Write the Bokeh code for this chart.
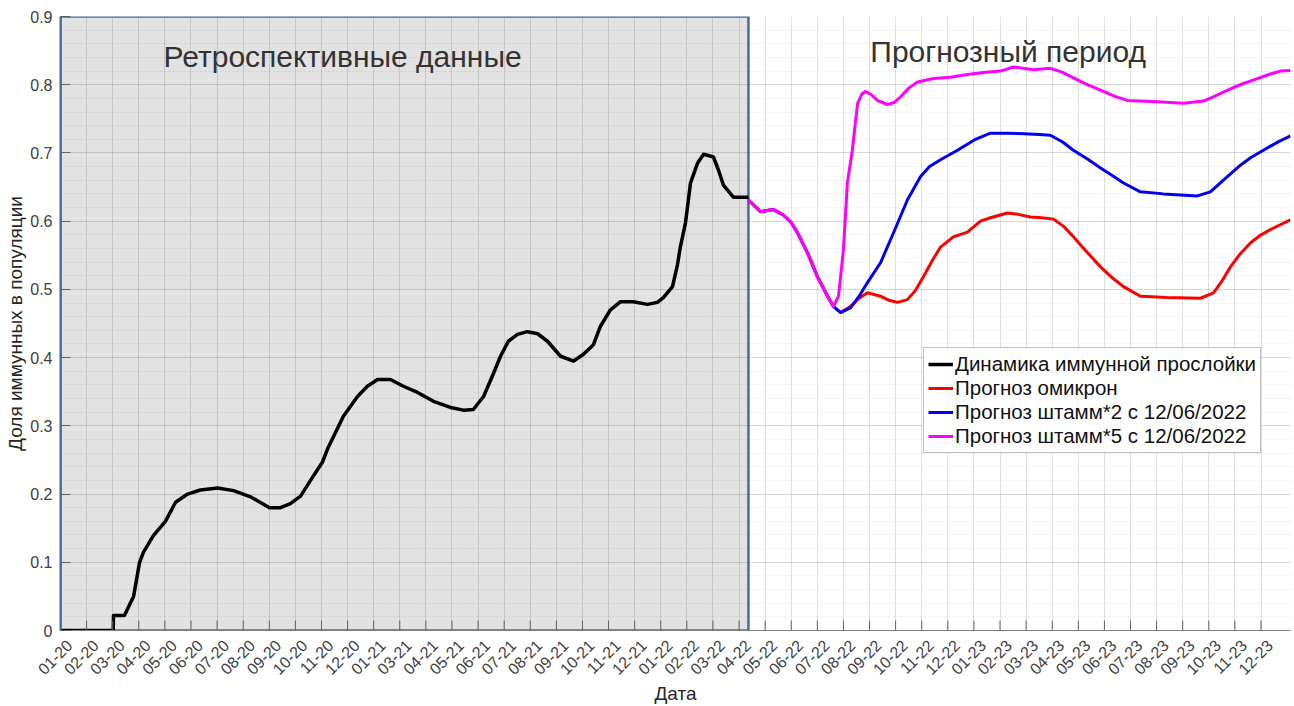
import numpy as np
from bokeh.plotting import figure
from bokeh.models import (FixedTicker, NumeralTickFormatter, Label, Legend,
                          LegendItem, Range1d, CustomJSTickFormatter)
from bokeh.embed import file_html
from bokeh.resources import INLINE

# ---------------- data ----------------
TICK_LABELS = [
    "01-20", "02-20", "03-20", "04-20", "05-20", "06-20", "07-20", "08-20",
    "09-20", "10-20", "11-20", "12-20", "01-21", "03-21", "04-21", "05-21",
    "06-21", "07-21", "08-21", "09-21", "10-21", "11-21", "12-21", "01-22",
    "02-22", "03-22", "04-22", "05-22", "06-22", "07-22", "08-22", "09-22",
    "10-22", "11-22", "12-22", "01-23", "02-23", "03-23", "04-23", "05-23",
    "06-23", "07-23", "08-23", "09-23", "10-23", "11-23", "12-23",
]

# x is measured in tick positions (0 = "01-20")
hist_t = [0, 2.02, 2.03, 2.45, 2.55, 2.8, 3.03, 3.18, 3.56, 4.02, 4.41, 4.87,
          5.36, 6.02, 6.63, 7.28, 8.01, 8.43, 8.81, 9.2, 9.58, 10.04, 10.23,
          10.84, 11.38, 11.76, 12.15, 12.64, 13.14, 13.68, 14.29, 14.94, 15.44,
          15.82, 16.21, 16.55, 16.86, 17.16, 17.51, 17.89, 18.28, 18.66, 19.16,
          19.66, 20.04, 20.42, 20.69, 21.07, 21.46, 21.95, 22.49, 22.87, 23.1,
          23.45, 23.64, 23.75, 23.95, 24.14, 24.41, 24.64, 25.02, 25.21, 25.4,
          25.79, 26.36]
hist_v = [0, 0, 0.022, 0.022, 0.03, 0.05, 0.1, 0.115, 0.139, 0.16, 0.188, 0.2,
          0.206, 0.209, 0.205, 0.196, 0.18, 0.18, 0.186, 0.197, 0.22, 0.247,
          0.266, 0.314, 0.343, 0.358, 0.368, 0.368, 0.358, 0.349, 0.336, 0.327,
          0.323, 0.324, 0.343, 0.373, 0.402, 0.424, 0.434, 0.438, 0.435, 0.424,
          0.402, 0.395, 0.405, 0.419, 0.446, 0.47, 0.482, 0.482, 0.478, 0.481,
          0.488, 0.504, 0.536, 0.562, 0.598, 0.656, 0.685, 0.698, 0.694, 0.675,
          0.653, 0.635, 0.635]

common_t = [26.36, 26.82, 27.32, 27.7, 28.0, 28.24, 28.62, 29.0, 29.39, 29.62]
common_v = [0.631, 0.614, 0.617, 0.609, 0.598, 0.583, 0.554, 0.519, 0.49, 0.475]

omicron_t = [29.89, 30.27, 30.6, 30.92, 31.42, 31.75, 32.07, 32.45, 32.75,
             33.07, 33.4, 33.72, 34.21, 34.75, 35.25, 35.63, 36.28, 36.7,
             37.16, 37.6, 38.05, 38.45, 38.81, 39.3, 39.85, 40.3, 40.73, 41.38,
             42.41, 43.68, 44.18, 44.5, 44.83, 45.2, 45.59, 46.0, 46.48, 47.13]
omicron_v = [0.466, 0.475, 0.487, 0.495, 0.49, 0.484, 0.481, 0.485, 0.498,
             0.519, 0.542, 0.562, 0.577, 0.584, 0.6, 0.605, 0.612, 0.61,
             0.606, 0.605, 0.603, 0.592, 0.577, 0.556, 0.533, 0.517, 0.504,
             0.49, 0.488, 0.487, 0.495, 0.512, 0.533, 0.552, 0.568, 0.58,
             0.59, 0.602]

strain2_t = [29.89, 30.27, 30.6, 30.92, 31.42, 31.92, 32.45, 32.95, 33.3,
             33.72, 34.37, 35.06, 35.63, 36.3, 36.9, 37.5, 37.93, 38.4, 38.81,
             39.35, 39.85, 40.3, 40.73, 41.38, 42.26, 43.56, 44.06, 44.56,
             45.21, 45.6, 46.09, 46.6, 47.13]
strain2_v = [0.466, 0.473, 0.49, 0.51, 0.539, 0.583, 0.631, 0.665, 0.68, 0.69,
             0.704, 0.72, 0.729, 0.729, 0.728, 0.727, 0.726, 0.716, 0.704,
             0.691, 0.678, 0.667, 0.656, 0.643, 0.64, 0.637, 0.643, 0.66,
             0.682, 0.693, 0.704, 0.715, 0.725]

strain5_t = [29.81, 30.0, 30.15, 30.34, 30.54, 30.7, 30.84, 31.05, 31.3, 31.69,
             31.95, 32.18, 32.5, 32.84, 33.45, 34.1, 34.75, 35.36, 36.02,
             36.51, 37.28, 37.93, 38.4, 38.81, 39.3, 39.85, 40.4, 40.88, 42.03,
             43.03, 43.79, 44.15, 44.56, 45.2, 45.86, 46.3, 46.74, 47.13]
strain5_v = [0.49, 0.558, 0.656, 0.704, 0.772, 0.786, 0.79, 0.786, 0.777,
             0.771, 0.774, 0.782, 0.795, 0.804, 0.809, 0.811, 0.815, 0.818,
             0.82, 0.826, 0.822, 0.824, 0.818, 0.81, 0.801, 0.792, 0.783,
             0.777, 0.775, 0.773, 0.776, 0.782, 0.789, 0.8, 0.809, 0.815,
             0.82, 0.821]

Y_TICKS = [0, 0.1, 0.2, 0.3, 0.4, 0.5, 0.6, 0.7, 0.8, 0.9]

# ---------------- figure ----------------
FONT = "Liberation Sans"
BLUE_FRAME = "#3d6e9e"
X_END = strain5_t[-1]
Y_END = Y_TICKS[-1]
FRAME_H = 616                      # plot frame height in px
LABEL_SHIFT = 0.34                 # labels sit a little right of their tick
X_TICKS = list(range(len(TICK_LABELS)))

p = figure(width=1292, height=706, output_backend="svg", toolbar_location=None,
           x_range=Range1d(0, X_END), y_range=Range1d(0, Y_END),
           min_border_left=60, min_border_right=2, min_border_top=16,
           min_border_bottom=74, background_fill_color="white",
           border_fill_color="white", outline_line_color=None)

# shaded retrospective region
p.quad(left=[hist_t[0]], right=[hist_t[-1]], bottom=[Y_TICKS[0]], top=[Y_END],
       fill_color="#e2e2e2", line_color=None, level="image")
p.quad(left=[hist_t[0]], right=[hist_t[-1]], bottom=[Y_TICKS[0]], top=[Y_END],
       fill_color=None, line_color=BLUE_FRAME, line_width=2.5)

# x axis: labels placed slightly right of the tick positions
p.xaxis.ticker = FixedTicker(ticks=[t + LABEL_SHIFT for t in X_TICKS])
p.xaxis.formatter = CustomJSTickFormatter(
    args=dict(labels=TICK_LABELS, shift=LABEL_SHIFT),
    code="return labels[Math.round(tick - shift)];")
p.xaxis.major_label_orientation = np.pi / 4
p.xaxis.major_tick_line_color = None
p.xaxis.major_tick_in = 0
p.xaxis.major_tick_out = 0
p.xgrid.ticker = FixedTicker(ticks=X_TICKS)
# inward x tick marks at the real tick positions
p.segment(x0=X_TICKS, x1=X_TICKS, y0=[Y_TICKS[0]] * len(X_TICKS),
          y1=[Y_END * 10 / FRAME_H] * len(X_TICKS), line_color="#606060",
          line_width=1, level="guide")

minor_y = [round(k * 0.02, 2) for k in range(46)]
p.yaxis.ticker = FixedTicker(ticks=Y_TICKS, minor_ticks=minor_y)
p.yaxis.formatter = NumeralTickFormatter(format="0.[0]")
p.yaxis.major_tick_in = 10
p.yaxis.major_tick_out = 0
p.yaxis.major_tick_line_color = "#606060"

for ax in (p.xaxis[0], p.yaxis[0]):
    ax.minor_tick_line_color = None
    ax.major_label_text_font = FONT
    ax.major_label_text_color = "#404040"
    ax.axis_label_text_font = FONT
    ax.axis_label_text_font_style = "normal"
    ax.axis_label_text_color = "#262626"
    ax.axis_label_text_font_size = "19px"

p.xaxis.major_label_text_font_size = "16px"
p.xaxis.major_label_text_line_height = 1.0
p.xaxis.axis_label_text_line_height = 0.8
p.xaxis.major_label_standoff = 12
p.yaxis.major_label_text_font_size = "16px"
p.yaxis.major_label_standoff = 4
p.xaxis.axis_label = "Дата"
p.yaxis.axis_label = "Доля иммунных в популяции"
p.xaxis.axis_label_standoff = 0
p.yaxis.axis_label_standoff = 1
p.xaxis.axis_line_color = "#808080"
p.yaxis.axis_line_color = BLUE_FRAME
p.yaxis.axis_line_width = 2

# grids
p.xgrid.grid_line_color = "#000000"
p.xgrid.grid_line_alpha = 0.12
p.ygrid.grid_line_color = "#000000"
p.ygrid.grid_line_alpha = 0.12
p.ygrid.minor_grid_line_color = "#000000"
p.ygrid.minor_grid_line_alpha = 0.08
p.ygrid.minor_grid_line_dash = "2 2"

# series
r_hist = p.line(hist_t, hist_v, line_color="black", line_width=3.5,
                line_join="round")
r_om = p.line(common_t + omicron_t, common_v + omicron_v, line_color="#ff0000",
              line_width=3, line_join="round")
r_s2 = p.line(common_t + strain2_t, common_v + strain2_v, line_color="#0000ee",
              line_width=3, line_join="round")
r_s5 = p.line(common_t + strain5_t, common_v + strain5_v, line_color="#ff00ff",
              line_width=3, line_join="round")

# region captions
p.add_layout(Label(x=3.95, y=0.8416, text="Ретроспективные данные",
                   text_font=FONT, text_font_size="30px",
                   text_color="#333333", text_baseline="alphabetic"))
p.add_layout(Label(x=31.03, y=0.849, text="Прогнозный период",
                   text_font=FONT, text_font_size="30px",
                   text_color="#333333", text_baseline="alphabetic"))

legend = Legend(items=[
    LegendItem(label="Динамика иммунной прослойки", renderers=[r_hist]),
    LegendItem(label="Прогноз омикрон", renderers=[r_om]),
    LegendItem(label="Прогноз штамм*2 с 12/06/2022", renderers=[r_s2]),
    LegendItem(label="Прогноз штамм*5 с 12/06/2022", renderers=[r_s5]),
], location=(863, 177))
legend.label_text_font = FONT
legend.label_text_font_size = "20.5px"
legend.label_text_color = "#111111"
legend.glyph_width = 25
legend.glyph_height = 20
legend.label_height = 20
legend.label_standoff = 2
legend.spacing = 0
legend.padding = 4
legend.margin = 0
legend.border_line_color = "#808080"
legend.border_line_width = 1
legend.background_fill_color = "white"
legend.background_fill_alpha = 1
p.add_layout(legend)

open("out.html", "w").write(file_html(p, INLINE))
